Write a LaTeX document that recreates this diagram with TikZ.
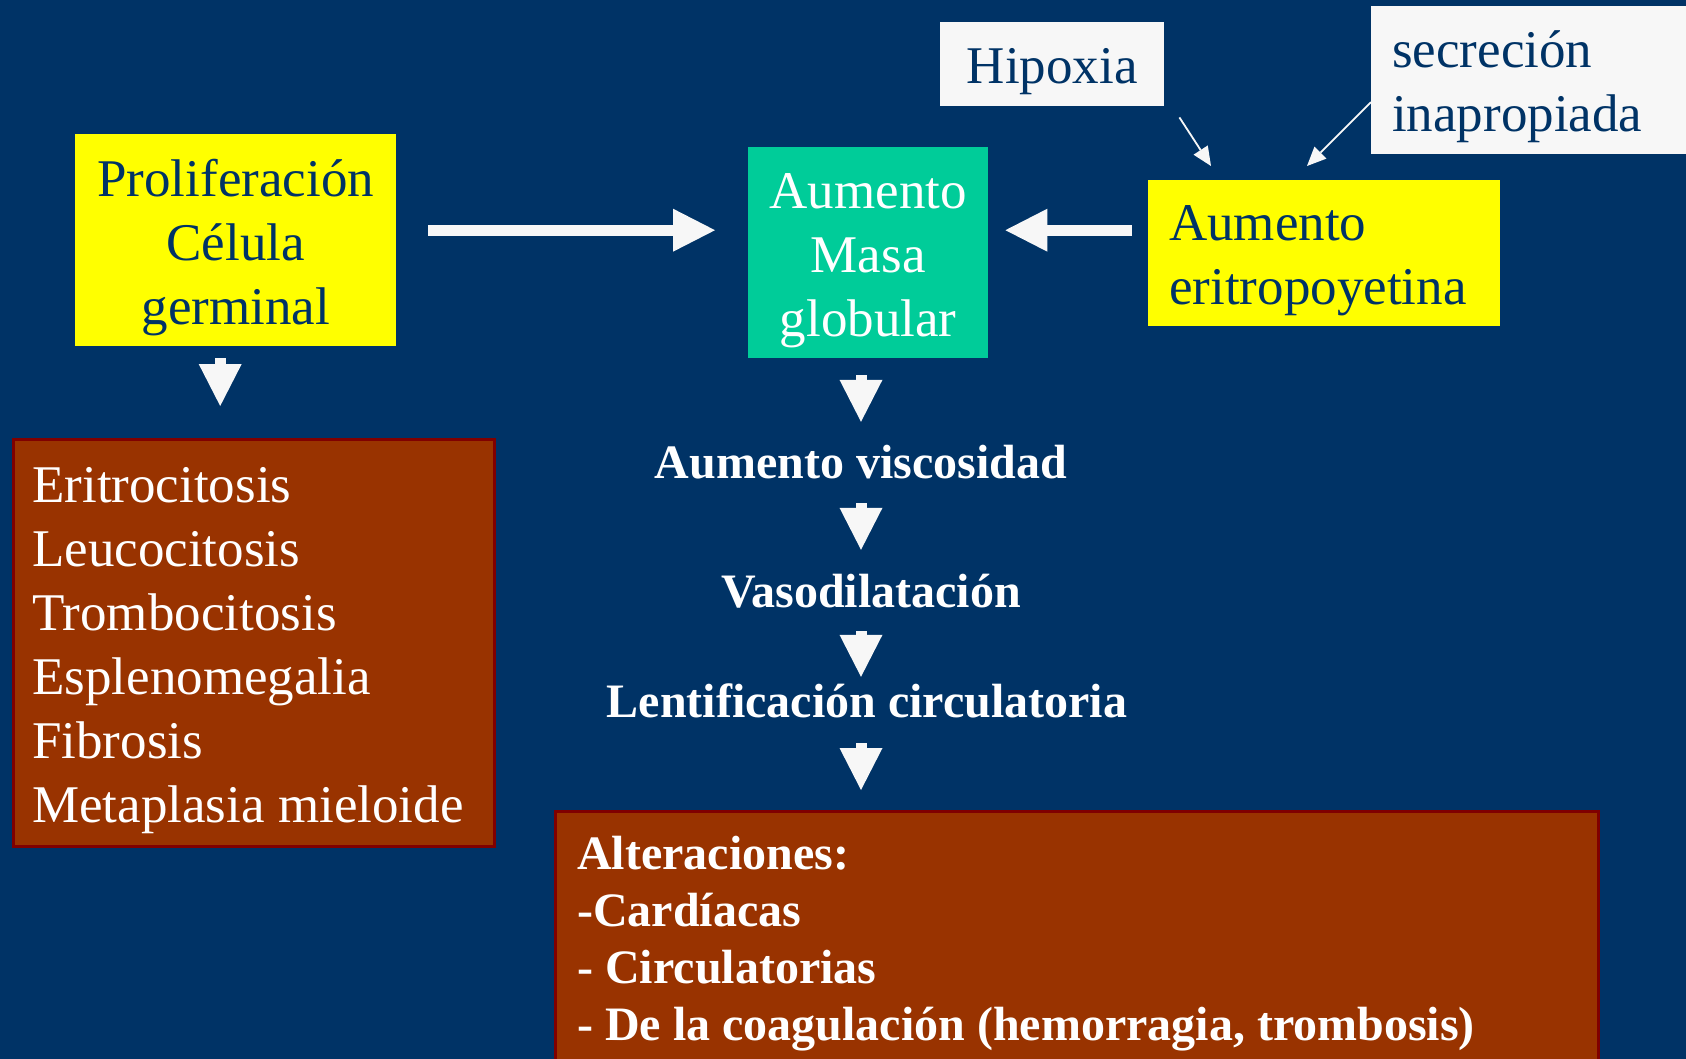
\documentclass[tikz,border=0pt]{standalone}
\usepackage{fontspec}
\setmainfont{Liberation Serif}
\usepackage{xcolor}
\usetikzlibrary{arrows.meta, positioning}

\definecolor{fondo}{RGB}{0,51,102}
\definecolor{amarillo}{RGB}{255,255,0}
\definecolor{verde}{RGB}{0,204,153}
\definecolor{ladrillo}{RGB}{153,51,0}
\definecolor{granate}{RGB}{128,0,0}
\definecolor{blanco}{RGB}{247,247,247}

\newcommand{\grande}{\fontsize{53}{64}\selectfont}
\newcommand{\negrita}{\fontsize{48}{57}\selectfont\bfseries}

\begin{document}
\begin{tikzpicture}[x=1pt, y=-1pt, auto,
	caja/.style={rectangle, anchor=north west, inner ysep=0pt, font=\grande, text=fondo},
	etiqueta/.style={anchor=base, inner sep=0pt, text height=34pt, text depth=10pt, font=\negrita, text=white},
	flecha/.style={draw=blanco, line width=11pt, -{Triangle[length=42pt, width=43pt, line width=0pt]}},
	fina/.style={draw=blanco, line width=1.8pt, -{Triangle[length=19pt, width=17pt, line width=0pt]}}]
	%\draw[help lines] (0,0) grid[step=100] (1686,1059);

	\useasboundingbox (0,0) rectangle (1686,1059);
	\clip (0,0) rectangle (1686,1059);
	\fill[fondo] (0,0) rectangle (1686,1059);

	\node (prolif) [caja, fill=amarillo, inner xsep=0pt, text width=321pt, align=flush center] at (75,134)
		{\rule{0pt}{62pt}Proliferación\\Célula\\germinal\rule[-22pt]{0pt}{0pt}};
	\node (masa) [caja, fill=verde, text=white, inner xsep=0pt, text width=240pt, align=flush center] at (748,147)
		{\rule{0pt}{61pt}Aumento\\Masa\\globular\rule[-22pt]{0pt}{0pt}};
	\node (epo) [caja, fill=amarillo, inner xsep=21pt, text width=310pt, align=flush left] at (1148,180)
		{\rule{0pt}{60pt}Aumento\\eritropoyetina\rule[-22pt]{0pt}{0pt}};
	\node (hip) [caja, fill=blanco, inner xsep=0pt, text width=224pt, align=flush center] at (940,22)
		{\rule{0pt}{61pt}Hipoxia\rule[-23pt]{0pt}{0pt}};
	\node (sec) [caja, fill=blanco, inner xsep=21pt, text width=300pt, align=flush left] at (1371,6)
		{\rule{0pt}{61pt}secreción\\inapropiada\rule[-23pt]{0pt}{0pt}};

	\node (efectos) [caja, fill=ladrillo, draw=granate, line width=2.5pt, text=white, inner xsep=19pt, text width=443pt, align=flush left] at (12,438)
		{\rule{0pt}{63pt}Eritrocitosis\\Leucocitosis\\Trombocitosis\\Esplenomegalia\\Fibrosis\\Metaplasia mieloide\rule[-24pt]{0pt}{0pt}};

	\node (visc) [etiqueta] at (861,478) {Aumento viscosidad};
	\node (vaso) [etiqueta] at (871,607) {Vasodilatación};
	\node (lent) [etiqueta] at (867,717) {Lentificación circulatoria};

	\node (alter) [caja, fill=ladrillo, draw=granate, line width=2.5pt, text=white, font=\negrita, inner xsep=22pt, text width=999pt, align=flush left] at (554,810)
		{\rule{0pt}{58pt}Alteraciones:\\-Cardíacas\\- Circulatorias\\- De la coagulación (hemorragia, trombosis)\rule[-40pt]{0pt}{0pt}};

	\draw [flecha, shorten <=32pt, shorten >=33pt] ([yshift=10pt]prolif.east) -- ([yshift=10pt]prolif.east -| masa.west);
	\draw [flecha, shorten <=16pt, shorten >=17pt] ([yshift=23pt]epo.west) -- ([yshift=23pt]epo.west -| masa.east);
	\draw [flecha, shorten <=12pt, shorten >=32pt] ([xshift=-15.5pt]prolif.south) -- ([xshift=-15.5pt]prolif.south |- efectos.north);

	\draw [flecha, shorten <=17pt, shorten >=22pt] (masa.south -| visc) -- (visc.north);
	\draw [flecha, shorten <=15pt, shorten >=23pt] (visc.south) -- (vaso.north -| visc);
	\draw [flecha, shorten <=14pt, shorten >=6pt] (vaso.south -| visc) -- (lent.north -| visc);
	\draw [flecha, shorten <=16pt, shorten >=20pt] (lent.south -| visc) -- (alter.north -| visc);

	\draw [fina] ([xshift=15pt, yshift=-11pt]hip.south east) -- ([xshift=63pt, yshift=14pt]epo.north west);
	\draw [fina] ([yshift=-22pt]sec.west) -- ([xshift=159pt, yshift=14pt]epo.north west);
\end{tikzpicture}
\end{document}
